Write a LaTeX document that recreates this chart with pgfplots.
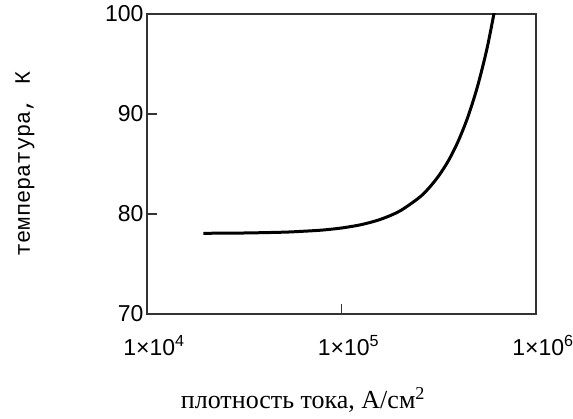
\documentclass[border=0pt]{standalone}
\usepackage{fontspec}
\setmainfont{Liberation Serif}
\newfontfamily\tickfont{Liberation Sans}
\newfontfamily\labfont{Liberation Mono}
\usepackage{pgfplots}
\pgfplotsset{compat=1.18}

\begin{document}
\begin{tikzpicture}
\begin{axis}[
    scale only axis,
    width=389pt, height=300pt,
    xmode=log,
    xmin=1e4, xmax=1e6,
    ymin=70, ymax=100,
    xtick={1e4,1e5,1e6},
    xticklabels={1×10\textsuperscript{4},1×10\textsuperscript{5},1×10\textsuperscript{6}},
    ytick={70,80,90,100},
    yticklabels={70,80,90,100},
    xminorticks=false,
    tick align=inside,
    xtick pos=lower, ytick pos=lower,
    major tick length=10pt,
    axis line style={line width=1.3pt, black!80},
    tick style={line width=1.3pt, black!80},
    xticklabel style={font=\tickfont\fontsize{23}{27}\selectfont, yshift=-18pt, xshift=7pt},
    yticklabel style={font=\tickfont\fontsize{23}{27}\selectfont, xshift=0pt},
    xlabel={плотность тока, А/см\textsuperscript{2}},
    ylabel={температура, К},
    xlabel style={font=\fontsize{26}{30}\selectfont, at={(axis description cs:0.401,-0.287)}, anchor=center},
    ylabel style={font=\labfont\fontsize{22}{26}\selectfont, at={(axis description cs:-0.314,0.5)}, anchor=center, rotate=0},
]
% temperature vs current density
\addplot[black, line width=3pt, smooth, tension=0.5] coordinates {
    (19500, 78.07) (31623, 78.10) (50119, 78.18) (63096, 78.27)
    (79433, 78.39) (100000, 78.60) (125893, 78.93) (158489, 79.46)
    (199526, 80.30) (251189, 81.65) (281838, 82.61) (316228, 83.82)
    (354813, 85.34) (398107, 87.28) (446684, 89.72) (501187, 92.81)
    (562341, 96.72) (630957, 101.7)
};
\end{axis}
\pgfresetboundingbox
\path[use as bounding box] (-147pt,-105pt) rectangle (426pt,314pt);
\end{tikzpicture}
\end{document}
